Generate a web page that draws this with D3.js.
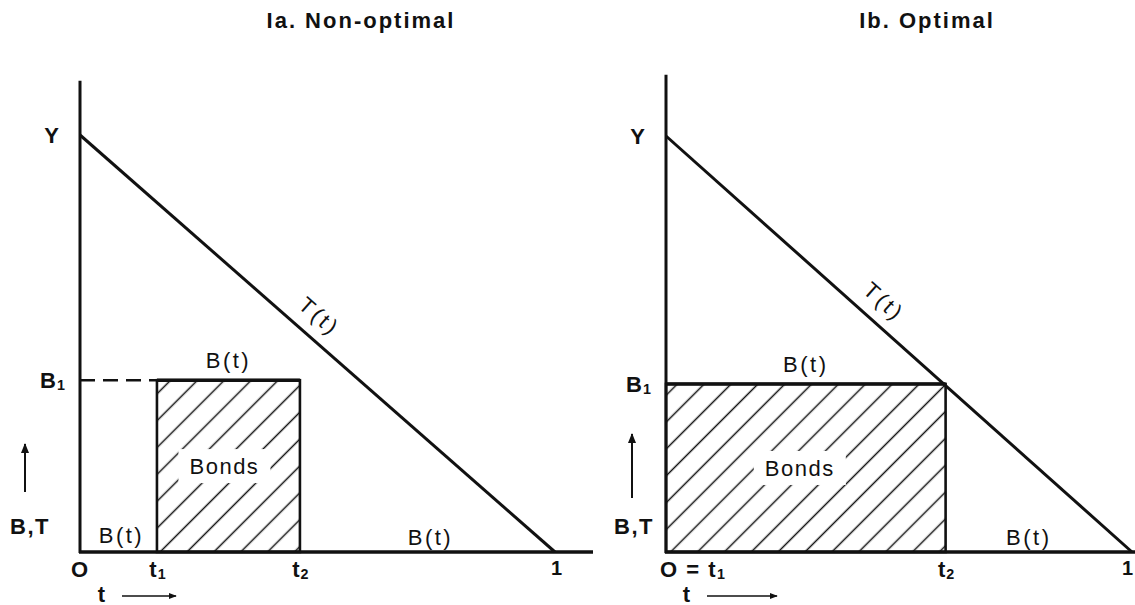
<!DOCTYPE html>
<html lang="en">
<head>
<meta charset="UTF-8">
<title>Non-optimal and optimal bond financing</title>
<script src="https://d3js.org/d3.v7.min.js"></script>
<style>
  body { margin: 0; background: #fff; }
  text { font-family: "Liberation Sans", Arial, sans-serif; fill: #111; }
</style>
</head>
<body>
<script>
// chart values (t runs 0..1, taxes T(t) fall from Y to 0)
const titles = ["Ia. Non-optimal", "Ib. Optimal"];
const taxLine = [[0, 1], [1, 0]];          // T(t): Y at t=0, 0 at t=1
const t1Values = [0.162, 0];
const t2Values = [0.463, 0.6];
const b1Values = [0.412, 0.404];
const tickValues = [[0, 0.162, 0.463, 1], [0, 0.6, 1]];
const tickLabels = [["O", "t_1", "t_2", "1"], ["O = t_1", "t_2", "1"]];
const yLabelValues = [1, 0.412, 1, 0.404];
const yLabels = [["Y", "B_1"], ["Y", "B_1"]];

// layout of the two panels
const layout = [
  { xr: [80, 555], yr: [552, 135], top: 1.13, end: 1.08, titleX: 361, tLab: 0.474, upX: 25, tx: 102, bt: 30 },
  { xr: [666, 1132], yr: [552, 136], top: 1.147, end: 1.01, titleX: 927, tLab: 0.437, upX: 632, tx: 687, bt: 634 }
];

const svg = d3.select("body").append("svg")
  .attr("width", 1135)
  .attr("height", 605);

const defs = svg.append("defs");
const hatch = defs.append("pattern")
  .attr("id", "hatch")
  .attr("patternUnits", "userSpaceOnUse")
  .attr("width", 19).attr("height", 19)
  .attr("patternTransform", "rotate(45)");
hatch.append("line")
  .attr("x1", 9.5).attr("y1", 0).attr("x2", 9.5).attr("y2", 19)
  .attr("stroke", "#111").attr("stroke-width", 1.5);

defs.append("marker")
  .attr("id", "head")
  .attr("viewBox", "0 0 10 10")
  .attr("refX", 9).attr("refY", 5)
  .attr("markerWidth", 5).attr("markerHeight", 5)
  .attr("markerUnits", "strokeWidth")
  .attr("orient", "auto")
  .append("path").attr("d", "M0,1 L10,5 L0,9 Z").attr("fill", "#111");

// text with "_" marking a subscript
function label(g, x, y, str, opts) {
  const o = Object.assign({ size: 22, weight: "bold", anchor: "middle", spacing: 1 }, opts);
  const t = g.append("text")
    .attr("x", x).attr("y", y)
    .attr("text-anchor", o.anchor)
    .attr("dominant-baseline", "central")
    .attr("font-size", o.size)
    .attr("font-weight", o.weight)
    .attr("letter-spacing", o.spacing);
  const parts = str.split("_");
  t.append("tspan").text(parts[0]);
  if (parts.length > 1) {
    t.append("tspan").attr("font-size", o.size * 0.65).attr("dy", 5).text(parts[1]);
  }
  if (o.rotate) t.attr("transform", `rotate(${o.rotate},${x},${y})`);
  return t;
}

titles.forEach((title, i) => {
  const L = layout[i];
  const x = d3.scaleLinear().domain([0, 1]).range(L.xr);
  const y = d3.scaleLinear().domain([0, 1]).range(L.yr);
  const g = svg.append("g");
  const t1 = t1Values[i], t2 = t2Values[i], b1 = b1Values[i];

  // title
  label(g, L.titleX, 20, title, { size: 22, spacing: 2 });

  // hatched bond block
  g.append("rect")
    .attr("x", x(t1)).attr("y", y(b1))
    .attr("width", x(t2) - x(t1)).attr("height", y(0) - y(b1))
    .attr("fill", "url(#hatch)")
    .attr("stroke", "#111").attr("stroke-width", 2.6);

  // gap in the hatching for the "Bonds" text
  const bx = (x(t1) + x(t2)) / 2 - (i === 1 ? 6 : 4);
  const by = (y(b1) + y(0)) / 2;
  g.append("rect")
    .attr("x", bx - 46).attr("y", by - 17)
    .attr("width", 92).attr("height", 34)
    .attr("fill", "#fff");
  label(g, bx, by, "Bonds", { size: 22, weight: "normal", spacing: 1.5 });

  // B(t) path: top of the block is thick
  g.append("line")
    .attr("x1", x(t1)).attr("x2", x(t2))
    .attr("y1", y(b1)).attr("y2", y(b1))
    .attr("stroke", "#111").attr("stroke-width", 3.6);

  if (t1 > 0) {
    g.append("line")
      .attr("x1", x(0)).attr("x2", x(t1))
      .attr("y1", y(b1)).attr("y2", y(b1))
      .attr("stroke", "#111").attr("stroke-width", 2.4)
      .attr("stroke-dasharray", "15,8");
  }

  // T(t)
  g.append("path")
    .datum(taxLine)
    .attr("d", d3.line().x(d => x(d[0])).y(d => y(d[1])))
    .attr("fill", "none")
    .attr("stroke", "#111").attr("stroke-width", 3);

  // axes
  g.append("line")
    .attr("x1", x(0)).attr("x2", x(0))
    .attr("y1", y(L.top)).attr("y2", y(0) + 1)
    .attr("stroke", "#111").attr("stroke-width", 3);
  g.append("line")
    .attr("x1", x(0) - 1).attr("x2", x(L.end))
    .attr("y1", y(0)).attr("y2", y(0))
    .attr("stroke", "#111").attr("stroke-width", 3.6);

  // T(t) label along the line
  const ang = Math.atan2(y(0) - y(1), x(1) - x(0)) * 180 / Math.PI;
  const rad = ang * Math.PI / 180;
  const lx = x(L.tLab) + 22 * Math.sin(rad);
  const ly = y(1 - L.tLab) - 22 * Math.cos(rad);
  label(g, lx, ly, "T(t)", { size: 22, weight: "normal", spacing: 3, rotate: ang });

  // B(t) labels
  const bOpts = { size: 22, weight: "normal", spacing: 2.5 };
  label(g, (x(t1) + x(t2)) / 2, y(b1) - 20, "B(t)", bOpts);
  if (t1 > 0) label(g, (x(0) + x(t1)) / 2 + 3, y(0) - 17, "B(t)", bOpts);
  label(g, (x(t2) + x(1)) / 2 + (i === 1 ? -10 : 3), y(0) - 15, "B(t)", bOpts);

  // tick labels on t
  tickValues[i].forEach((v, k) => {
    const s = tickLabels[i][k];
    if (s.startsWith("O =")) {
      label(g, x(v) - 6, y(0) + 17, s, { anchor: "start", spacing: 1.5 });
    } else if (s === "1") {
      label(g, Math.min(x(v) + 2, 1128), y(0) + 16, s, { size: 20 });
    } else {
      label(g, x(v) + (k > 0 ? 1 : 0), y(0) + 17, s);
    }
  });

  // labels on B,T
  yLabels[i].forEach((s, k) => {
    label(g, x(0) - (k === 0 ? 28 : 27), y(yLabelValues[i * 2 + k]), s);
  });
  label(g, L.bt, y(0) - 26, "B,T", { spacing: 1.5 });

  // direction arrows
  g.append("line")
    .attr("x1", L.upX).attr("x2", L.upX)
    .attr("y1", i === 0 ? 492 : 498).attr("y2", i === 0 ? 444 : 434)
    .attr("stroke", "#111").attr("stroke-width", 2)
    .attr("marker-end", "url(#head)");
  label(g, L.tx, 594, "t");
  g.append("line")
    .attr("x1", L.tx + 20).attr("x2", L.tx + (i === 0 ? 74 : 90))
    .attr("y1", 596).attr("y2", 596)
    .attr("stroke", "#111").attr("stroke-width", 1.6)
    .attr("marker-end", "url(#head)");
});
</script>
</body>
</html>
